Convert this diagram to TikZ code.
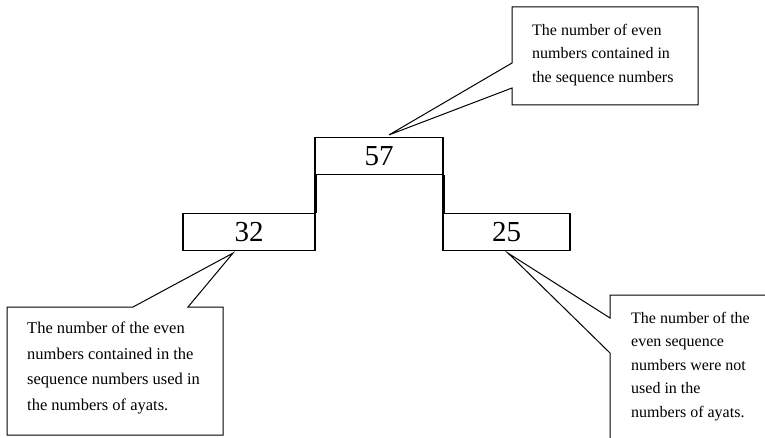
\documentclass[tikz,border=0pt]{standalone}
\usepackage{fontspec}
\setmainfont{Liberation Serif}
\usetikzlibrary{calc,positioning}

\tikzset{
  numbox/.style={draw,line width=1.2pt,inner sep=0pt,minimum height=37pt,font=\fontsize{29}{31}\selectfont},
  notetext/.style={anchor=north west,inner sep=0pt,align=left,font=\fontsize{16}{23.5}\selectfont},
  calloutline/.style={line width=1pt,line join=miter},
  stemline/.style={line width=3.5pt}
}

\begin{document}
\begin{tikzpicture}[x=1pt,y=1pt]
              \useasboundingbox (0,0) rectangle (765,437);
              \clip (0,0) rectangle (765,437);
              % number boxes
              \node[numbox,minimum width=128pt](n57)at(379,281){57};
              \node[numbox,minimum width=132pt](n32)at(249,205){32};
              \node[numbox,minimum width=127pt](n25)at(506.5,205){25};
              \draw[stemline]($(n57.south west)+(1,0)$)--($(n57.south west |- n32.north east)+(1,0)$);
              \draw[stemline](n57.south east)--(n57.south east |- n25.north west);
              % callout tips
              \coordinate(t57)at($(n57.north)+(10,2)$);
              \coordinate(t32)at($(n32.south)+(-16,-2)$);
              \coordinate(t25)at($(n25.south)+(1.5,-2)$);
              % callouts
              \draw[calloutline](512,430)--(698,430)--(698,332)--(512,332)--(512,349)--(t57)--(512,374)--cycle;
              \node[notetext](c57)at(532,413){The number of even\\numbers contained in\\the sequence numbers};
              \draw[calloutline](7,130)--(133,130)--(t32)--(188,130)--(223,130)--(223,2)--(7,2)--cycle;
              \node[notetext,font=\fontsize{16.5}{25.5}\selectfont](c32)at(27,115){The number of the even\\numbers contained in the\\sequence numbers used in\\the numbers of ayats.};
              \draw[calloutline](790,142)--(610,142)--(610,119)--(t25)--(610,84)--(610,-10);
              \node[notetext](c25)at(631,125){The number of the\\even sequence\\numbers were not\\used in the\\numbers of ayats.};
            \end{tikzpicture}
\end{document}
